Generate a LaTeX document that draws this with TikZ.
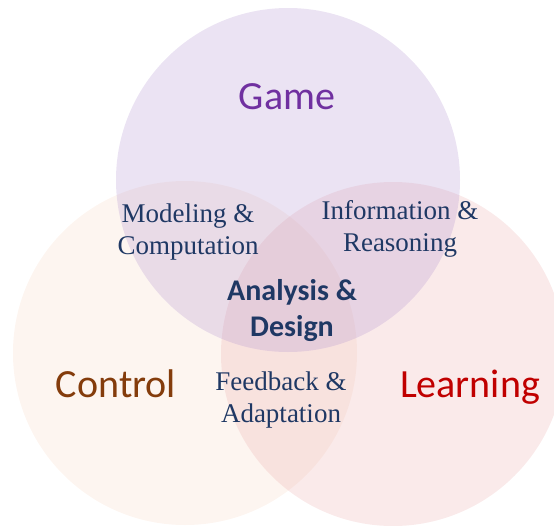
\documentclass[tikz,border=0pt]{standalone}
\usepackage{fontspec}
\newfontfamily\calibrifont{Carlito}
\newfontfamily\timesfont{Liberation Serif}
\definecolor{gamefill}{RGB}{175,143,207}
\definecolor{controlfill}{RGB}{247,215,195}
\definecolor{learnfill}{RGB}{235,171,171}
\definecolor{gametext}{RGB}{112,48,160}
\definecolor{controltext}{RGB}{132,60,12}
\definecolor{learntext}{RGB}{192,0,0}
\definecolor{navy}{RGB}{31,56,100}
\tikzset{
  setcircle/.style={fill opacity=0.25, draw=none},
  biglabel/.style={inner sep=0pt, font=\calibrifont\fontsize{40}{48}\selectfont, anchor=base},
  midlabel/.style={inner sep=0pt, align=center, text=navy, font=\timesfont\fontsize{27}{31.5}\selectfont},
  corelabel/.style={inner sep=0pt, align=center, text=navy, font=\calibrifont\bfseries\fontsize{30}{36}\selectfont}
}
\begin{document}
\begin{tikzpicture}[x=1pt,y=-1pt]
\useasboundingbox (0,0) rectangle (554,525);
\begin{scope}
\clip (0,0) rectangle (554,525);
\fill[controlfill, setcircle] (185,353) circle (172);
\fill[learnfill, setcircle] (393,354) circle (172);
\fill[gamefill, setcircle] (288,180) circle (172);
\end{scope}
\node[biglabel, text=gametext] (game) at (287,109) {Game};
\node[biglabel, text=controltext] (control) at (116,397) {Control};
\node[biglabel, text=learntext] (learning) at (470,397) {Learning};
\node[midlabel] (modcomp) at (188,232) {Modeling \&\\Computation};
\node[midlabel] (inforeas) at (400,229) {Information \&\\Reasoning};
\node[corelabel] (analysis) at (292,311) {Analysis \&\\Design};
\node[midlabel] (feedback) at (281,400) {Feedback \&\\Adaptation};
\end{tikzpicture}
\end{document}
